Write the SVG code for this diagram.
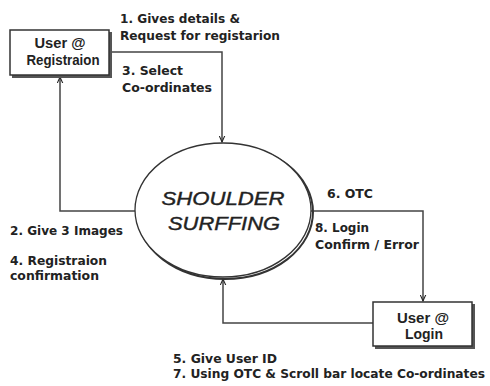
<svg xmlns="http://www.w3.org/2000/svg" width="490" height="386" viewBox="0 0 490 386">
<style>
.t{font-family:"DejaVu Sans","Liberation Sans",Arial,sans-serif;font-weight:bold;font-size:12px;fill:#222}
.n{font-family:"Liberation Sans",Arial,sans-serif;font-weight:bold;font-size:14px;fill:#222;text-anchor:middle}
.e{font-family:"Liberation Sans",Arial,sans-serif;font-style:italic;font-size:19px;fill:#222;stroke:#222;stroke-width:0.4;text-anchor:middle}
.c{stroke:#444;stroke-width:1.5;fill:none}
.box{fill:#fff;stroke:#333;stroke-width:1.5}
.sh{fill:#555}
</style>
<defs>
<marker id="ah" viewBox="0 0 10 10" refX="9" refY="5" markerWidth="7" markerHeight="7" orient="auto" markerUnits="userSpaceOnUse">
<path d="M0,1 L9,5 L0,9" fill="none" stroke="#222" stroke-width="1.5"/>
</marker>
</defs>
<g id="connectors">
<path class="c" d="M110,52 H222 V142" marker-end="url(#ah)"/>
<path class="c" d="M135,211 H60 V77" marker-end="url(#ah)"/>
<path class="c" d="M311,211 H423 V301" marker-end="url(#ah)"/>
<path class="c" d="M373,323 H223 V279" marker-end="url(#ah)"/>
</g>
<g id="reg">
<rect class="sh" x="12" y="32" width="100" height="46"/>
<rect class="box" x="10" y="30" width="99" height="45"/>
<text class="n" x="60" y="48" textLength="51" lengthAdjust="spacingAndGlyphs">User @</text>
<text class="n" x="63" y="65" textLength="73" lengthAdjust="spacingAndGlyphs">Registraion</text>
</g>
<g id="shoulder">
<ellipse cx="225" cy="212" rx="88" ry="67" fill="none" stroke="#333" stroke-width="2"/>
<ellipse cx="223" cy="210" rx="88" ry="67" fill="#fff" stroke="#333" stroke-width="1.3"/>
<text class="e" x="223" y="205" textLength="123" lengthAdjust="spacingAndGlyphs">SHOULDER</text>
<text class="e" x="224" y="230" textLength="112" lengthAdjust="spacingAndGlyphs">SURFFING</text>
</g>
<g id="login">
<rect class="sh" x="375" y="304" width="100" height="45"/>
<rect class="box" x="373" y="302" width="99" height="44"/>
<text class="n" x="423" y="323" textLength="52" lengthAdjust="spacingAndGlyphs">User @</text>
<text class="n" x="424" y="339" textLength="38" lengthAdjust="spacingAndGlyphs">Login</text>
</g>
<g id="labels">
<text class="t" x="120" y="23" textLength="120" lengthAdjust="spacingAndGlyphs">1. Gives details &amp;</text>
<text class="t" x="120" y="40" textLength="160" lengthAdjust="spacingAndGlyphs">Request for registarion</text>
<text class="t" x="122" y="75" textLength="61" lengthAdjust="spacingAndGlyphs">3. Select</text>
<text class="t" x="122" y="92" textLength="90" lengthAdjust="spacingAndGlyphs">Co-ordinates</text>
<text class="t" x="327" y="198" textLength="46" lengthAdjust="spacingAndGlyphs">6. OTC</text>
<text class="t" x="315" y="232" textLength="54" lengthAdjust="spacingAndGlyphs">8. Login</text>
<text class="t" x="315" y="249" textLength="104" lengthAdjust="spacingAndGlyphs">Confirm / Error</text>
<text class="t" x="10" y="235" textLength="113" lengthAdjust="spacingAndGlyphs">2. Give 3 Images</text>
<text class="t" x="10" y="265" textLength="97" lengthAdjust="spacingAndGlyphs">4. Registraion</text>
<text class="t" x="10" y="280" textLength="89" lengthAdjust="spacingAndGlyphs">confirmation</text>
<text class="t" x="173" y="363" textLength="104" lengthAdjust="spacingAndGlyphs">5. Give User ID</text>
<text class="t" x="173" y="378" textLength="312" lengthAdjust="spacingAndGlyphs">7. Using OTC &amp; Scroll bar locate Co-ordinates</text>
</g>
</svg>
